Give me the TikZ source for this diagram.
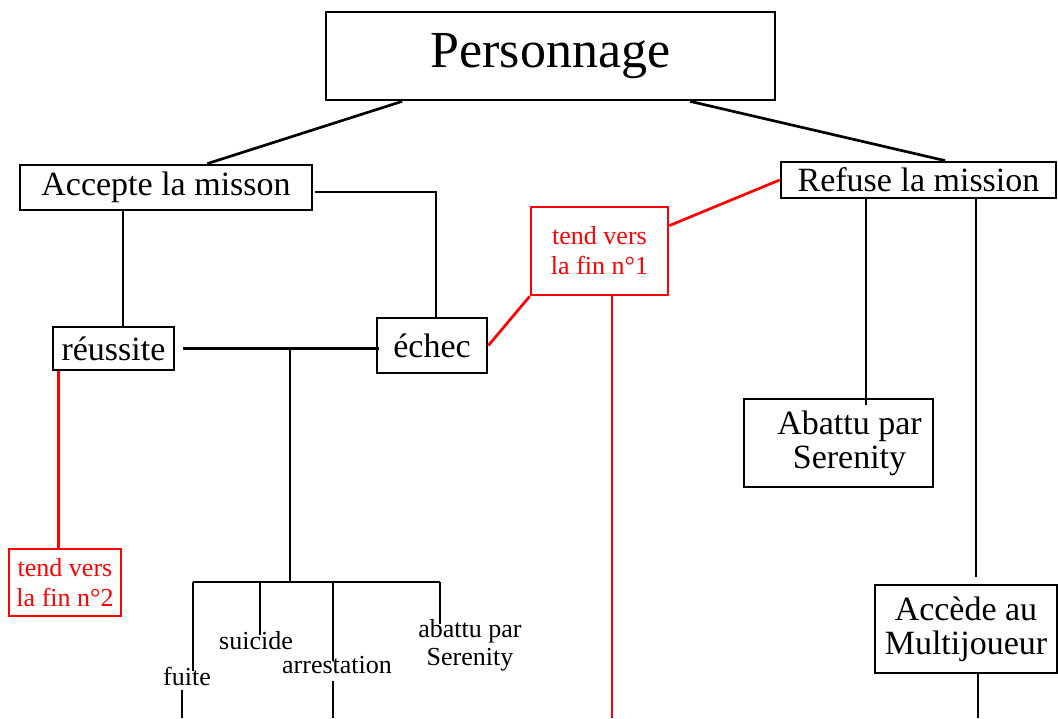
\documentclass[tikz,border=0pt]{standalone}
\usepackage{fontspec}
\setmainfont{Liberation Serif}
\usepackage{xcolor}

\begin{document}
\begin{tikzpicture}[x=1pt,y=-1pt,line width=2.7pt,
    box/.style={draw,inner sep=0pt,align=center,font=\fontsize{34}{34}\selectfont},
    redbox/.style={draw=red,text=red,inner sep=0pt,align=center,font=\fontsize{26}{30}\selectfont},
    lbl/.style={inner sep=0pt,align=center,font=\fontsize{26}{28}\selectfont}]
    \useasboundingbox (0,0) rectangle (1058,718);

    % Draw the boxes
    \node[box,minimum width=449pt,minimum height=88pt,font=\fontsize{52}{52}\selectfont] (perso) at (550.5,56) {Personnage};
    \node[box,minimum width=292pt,minimum height=45pt] (acc) at (166,187.5) {Accepte la misson};
    \node[box,minimum width=275pt,minimum height=36pt] (ref) at (918.5,180) {Refuse la mission};
    \node[box,minimum width=121pt,minimum height=43pt] (reu) at (113.5,348.5) {réussite};
    \node[box,minimum width=110pt,minimum height=55pt] (echec) at (432,345.5) {échec};
    \node[box,minimum width=189pt,minimum height=88pt] (abat) at (838.5,443) {\hspace*{22pt}Abattu par\\\hspace*{22pt}Serenity};
    \node[box,minimum width=182pt,minimum height=88pt] (multi) at (966,629) {Accède au\\Multijoueur};
    \node[redbox,minimum width=137pt,minimum height=88pt] (fin1) at (599.5,251) {tend vers\\la fin n°1};
    \node[redbox,minimum width=112pt,minimum height=67pt] (fin2) at (65,582.5) {tend vers\\la fin n°2};

    % Draw the outcome labels
    \node[lbl] (fuite) at (187,676) {fuite};
    \node[lbl] (suic) at (256,641) {suicide};
    \node[lbl] (arrest) at (337,665) {arrestation};
    \node[lbl] (abatlbl) at (470,645) {abattu par\\Serenity};

    % Helper points
    \coordinate (split) at (290,350);
    \coordinate (comb) at (290,582);
    \coordinate (cfuite) at (193,582);
    \coordinate (csuic) at (260,582);
    \coordinate (carrest) at (333,582);
    \coordinate (cabat) at (440,582);
    \coordinate (rA) at ([xshift=-52.5pt]ref.south);
    \coordinate (rB) at ([xshift=57.5pt]ref.south);
    \coordinate (aR) at ([xshift=-43pt]acc.south);

    % Draw the black connectors
    \draw (perso.197) -- (acc.30);
    \draw (perso.342) -- (ref.36);
    \draw (aR) -- (aR |- reu.north);
    \draw ([xshift=2pt,yshift=-4.5pt]acc.east) -| ([xshift=4pt]echec.north);
    \draw ([xshift=8pt]reu.east) -- ([xshift=3pt]reu.east -| echec.west);
    \draw (split) -- (comb);
    \draw (cfuite) -- (cabat);
    \draw (cfuite) -- ([yshift=-6pt]cfuite |- fuite.north);
    \draw (csuic) -- ([yshift=-4pt]csuic |- suic.north);
    \draw (carrest) -- ([yshift=-6pt]carrest |- arrest.north);
    \draw (cabat) -- ([yshift=-6pt]cabat |- abatlbl.north);
    \draw ([xshift=-5pt,yshift=-3pt]fuite.south) -- ([xshift=-5pt]fuite.south |- 0,718);
    \draw ([xshift=-4pt,yshift=-6pt]arrest.south) -- ([xshift=-4pt]arrest.south |- 0,718);
    \draw (rA) -- ([yshift=-7pt]rA |- abat.north);
    \draw (rB) -- ([yshift=7pt]rB |- multi.north);
    \draw ([xshift=12pt]multi.south) -- ([xshift=12pt]multi.south |- 0,718);

    % Draw the red connectors
    \draw[red] ([xshift=7pt]reu.south west) -- ([xshift=7pt]reu.south west |- fin2.north);
    \draw[red] (echec.east) -- (fin1.south west);
    \draw[red] (fin1.20) -- (ref.west);
    \draw[red] ([xshift=12.5pt]fin1.south) -- ([xshift=12.5pt]fin1.south |- 0,718);
\end{tikzpicture}
\end{document}
